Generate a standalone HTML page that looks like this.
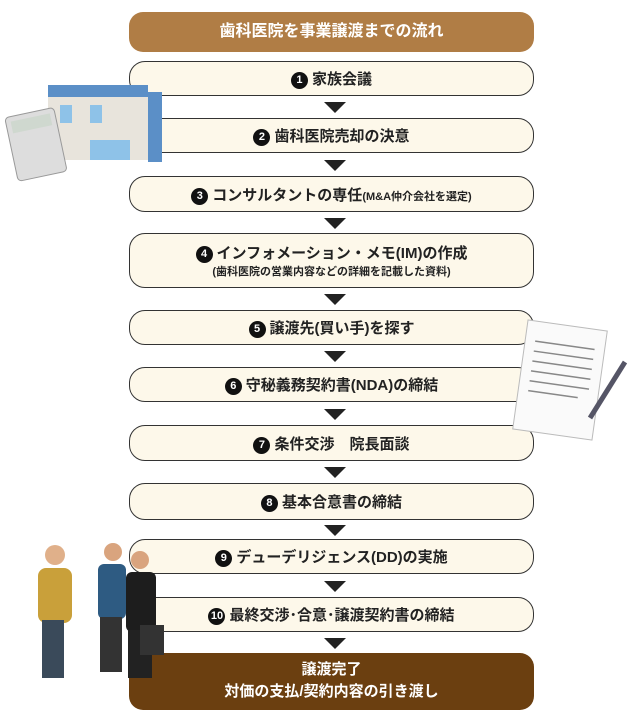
<!DOCTYPE html>
<html><head><meta charset="utf-8"><style>
body{margin:0;width:639px;height:720px;background:#fff;position:relative;overflow:hidden;font-family:"Liberation Sans","Noto Sans CJK JP",sans-serif;}
.b{position:absolute;left:129px;width:405px;border:1.5px solid #333;border-radius:16px;background:#fdf8ea;box-sizing:border-box;text-align:center;font-size:15px;font-weight:bold;color:#222;display:flex;flex-direction:column;justify-content:center;}
.n{display:inline-block;width:17px;height:17px;border-radius:50%;background:#111;color:#fff;font-size:11px;line-height:17px;text-align:center;margin-right:4px;vertical-align:1px}
.a{position:absolute;left:324px;width:0;height:0;border-left:11px solid transparent;border-right:11px solid transparent;border-top:11px solid #222;}
.s{font-size:11px}
</style></head><body>
<div style="position:absolute;left:129px;top:12px;width:405px;height:40px;border-radius:14px;background:#b07d45;color:#fff;font-weight:bold;font-size:16px;text-align:center;line-height:40px">歯科医院を事業譲渡までの流れ</div>
<div class="b" style="top:61px;height:35px"><div><span class="n">1</span>家族会議</div></div>
<div class="a" style="top:102px"></div>
<div class="b" style="top:118px;height:35px"><div><span class="n">2</span>歯科医院売却の決意</div></div>
<div class="a" style="top:160px"></div>
<div class="b" style="top:176px;height:36px"><div><span class="n">3</span>コンサルタントの専任<span class="s">(M&amp;A仲介会社を選定)</span></div></div>
<div class="a" style="top:218px"></div>
<div class="b" style="top:233px;height:55px"><div><span class="n">4</span>インフォメーション・メモ(IM)の作成</div><div class="s">(歯科医院の営業内容などの詳細を記載した資料)</div></div>
<div class="a" style="top:294px"></div>
<div class="b" style="top:310px;height:35px"><div><span class="n">5</span>譲渡先(買い手)を探す</div></div>
<div class="a" style="top:351px"></div>
<div class="b" style="top:367px;height:35px"><div><span class="n">6</span>守秘義務契約書(NDA)の締結</div></div>
<div class="a" style="top:409px"></div>
<div class="b" style="top:425px;height:36px"><div><span class="n">7</span>条件交渉　院長面談</div></div>
<div class="a" style="top:467px"></div>
<div class="b" style="top:483px;height:37px"><div><span class="n">8</span>基本合意書の締結</div></div>
<div class="a" style="top:525px"></div>
<div class="b" style="top:539px;height:35px"><div><span class="n">9</span>デューデリジェンス(DD)の実施</div></div>
<div class="a" style="top:581px"></div>
<div class="b" style="top:597px;height:35px"><div><span class="n">10</span>最終交渉･合意･譲渡契約書の締結</div></div>
<div class="a" style="top:638px"></div>
<div style="position:absolute;left:129px;top:653px;width:405px;height:57px;border-radius:14px;background:#6b3f10;color:#fff;font-weight:bold;font-size:15px;text-align:center;line-height:22px;padding-top:6px;box-sizing:border-box">譲渡完了<br>対価の支払/契約内容の引き渡し</div>
<svg style="position:absolute;left:0;top:0" width="639" height="720">
<rect x="48" y="85" width="100" height="75" fill="#e8e4dc"/><rect x="48" y="85" width="100" height="12" fill="#5b8fc7"/>
<rect x="148" y="92" width="14" height="70" fill="#5b8fc7"/>
<rect x="60" y="105" width="12" height="18" fill="#8ec2e8"/><rect x="90" y="105" width="12" height="18" fill="#8ec2e8"/><rect x="90" y="140" width="40" height="20" fill="#8ec2e8"/>
<g transform="rotate(-12 35 140)"><rect x="10" y="112" width="50" height="65" rx="4" fill="#ddd" stroke="#999"/><rect x="15" y="117" width="40" height="12" fill="#cfd8cf"/></g>
<g transform="rotate(8 560 380)"><rect x="520" y="325" width="80" height="110" fill="#fafafa" stroke="#bbb"/>
<g stroke="#888" stroke-width="1.5"><line x1="530" y1="345" x2="590" y2="345"/><line x1="530" y1="355" x2="590" y2="355"/><line x1="530" y1="365" x2="590" y2="365"/><line x1="530" y1="375" x2="590" y2="375"/><line x1="530" y1="385" x2="590" y2="385"/><line x1="530" y1="395" x2="580" y2="395"/></g></g>
<line x1="625" y1="362" x2="590" y2="418" stroke="#556" stroke-width="5"/>
<circle cx="55" cy="555" r="10" fill="#e0b08a"/><rect x="38" y="568" width="34" height="55" rx="8" fill="#c9a03a"/><rect x="42" y="620" width="22" height="58" fill="#3a4a5a"/>
<circle cx="113" cy="552" r="9" fill="#d9a47e"/><rect x="98" y="564" width="28" height="55" rx="6" fill="#2e5b82"/><rect x="100" y="617" width="22" height="55" fill="#333"/>
<circle cx="140" cy="560" r="9" fill="#d9a47e"/><rect x="126" y="572" width="30" height="60" rx="6" fill="#1d1d1d"/><rect x="128" y="630" width="24" height="48" fill="#222"/><rect x="140" y="625" width="24" height="30" fill="#333"/>
</svg>
</body></html>
